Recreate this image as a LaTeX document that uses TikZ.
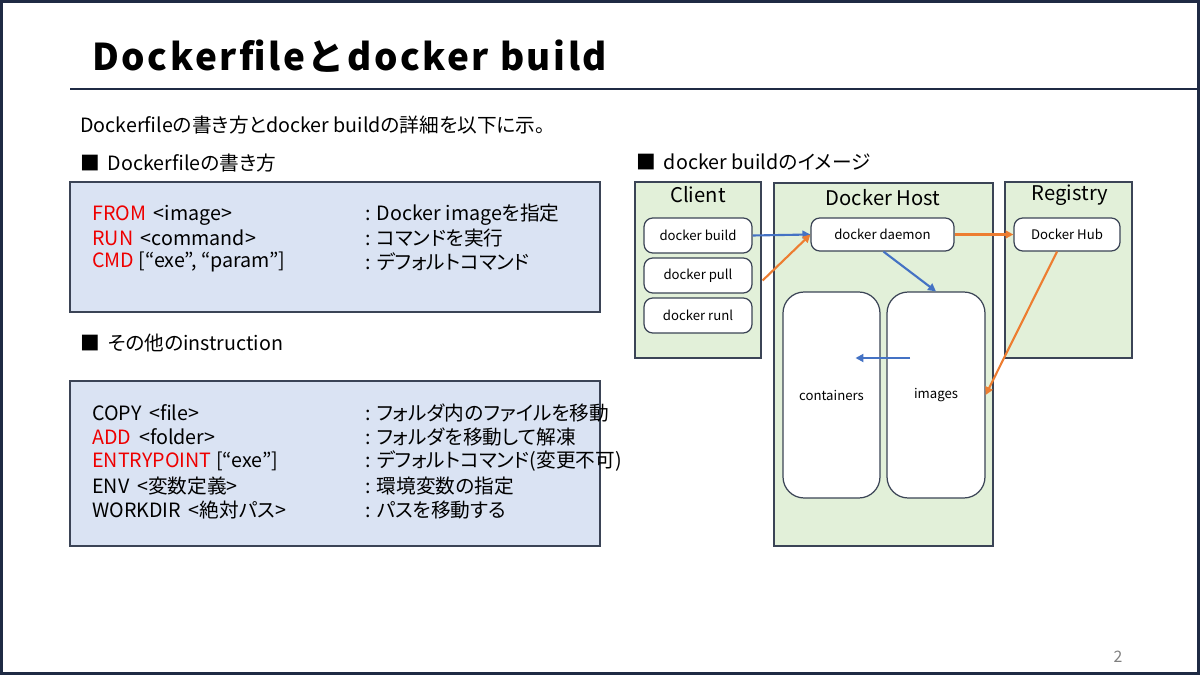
\documentclass[tikz,border=0pt]{standalone}
\usepackage{fontspec}
\setmainfont{Noto Sans CJK JP}[RawFeature=+palt]
\newfontfamily\titlefont[LetterSpace=7]{Noto Sans CJK JP}
\usetikzlibrary{positioning,arrows.meta}

\definecolor{navy}{HTML}{1F2A44}
\definecolor{boxblue}{HTML}{DAE3F3}
\definecolor{boxgreen}{HTML}{E2F0D9}
\definecolor{edgegray}{HTML}{3B4456}
\definecolor{arrblue}{HTML}{4472C4}
\definecolor{arrorange}{HTML}{ED7D31}
\definecolor{cmdred}{HTML}{EE0000}

\tikzset{
  cmdbox/.style={draw=edgegray, fill=boxblue, line width=0.8pt, minimum width=10.6cm, inner sep=0},
  panel/.style={draw=edgegray, fill=boxgreen, line width=0.8pt, inner sep=0},
  tool/.style={draw=edgegray, fill=white, line width=0.7pt, rounded corners=5pt, inner sep=0,
    font=\fontsize{7.5}{9}\selectfont},
  store/.style={draw=edgegray, fill=white, line width=0.7pt, rounded corners=12pt, inner sep=0,
    minimum height=4.12cm, font=\fontsize{7.5}{9}\selectfont},
  ln/.style={anchor=west, inner sep=0, font=\fontsize{11.2}{13}\selectfont},
  head/.style={anchor=west, inner sep=0, font=\fontsize{11.2}{13}\selectfont},
  ptitle/.style={inner sep=0, font=\fontsize{11.5}{13}\selectfont},
  flow/.style={-{Triangle[length=4.5pt,width=4.5pt]}, line width=1.2pt}
}
\newcommand{\red}[1]{\textcolor{cmdred}{#1}}

\begin{document}
\begin{tikzpicture}[x=0.02cm,y=-0.02cm]
\useasboundingbox (0,0) rectangle (1200,675);
\fill[white] (0,0) rectangle (1200,675);
\draw[navy, line width=1.7pt] (1.5,1.5) rectangle (1198.5,673.5);

% title
\node[anchor=west, inner sep=0, font=\titlefont\bfseries\fontsize{21}{24}\selectfont] (title) at (92,56) {Dockerfileとdocker build};
\draw[navy, line width=1.7pt] (70,89) -- (1198,89);
\node[head] (intro) at (80,125) {Dockerfileの書き方とdocker buildの詳細を以下に示。};

% left side
\node[head] (howto) at (80,163) {■\hspace{0.4em}Dockerfileの書き方};
\node[cmdbox, minimum height=2.6cm] (basic) at (335,247) {};
\node[ln] (from) at (92,215) {\red{FROM} \,<image>};
\node[ln] (run) at (92,238) {\red{RUN} \,<command>};
\node[ln] (cmd) at (92,262) {\red{CMD} [“exe”, “param”]};
\node[ln] (fromd) at (365,215) {: Docker imageを指定};
\node[ln] (rund) at (365,238) {: コマンドを実行};
\node[ln] (cmdd) at (365,262) {: デフォルトコマンド};

\node[head] (other) at (80,343) {■\hspace{0.4em}その他のinstruction};
\node[cmdbox, minimum height=3.3cm] (extra) at (335,463.5) {};
\node[ln] (copy) at (92,413) {COPY \,<file>};
\node[ln] (add) at (92,437) {\red{ADD} \,<folder>};
\node[ln] (entry) at (92,461) {\red{ENTRYPOINT} [“exe”]};
\node[ln] (env) at (92,486) {ENV \,<変数定義>};
\node[ln] (work) at (92,510) {WORKDIR \,<絶対パス>};
\node[ln] (copyd) at (365,413) {: フォルダ内のファイルを移動};
\node[ln] (addd) at (365,437) {: フォルダを移動して解凍};
\node[ln] (entryd) at (365,461) {: デフォルトコマンド(変更不可)};
\node[ln] (envd) at (365,486) {: 環境変数の指定};
\node[ln] (workd) at (365,510) {: パスを移動する};

% right side
\node[head] (image) at (636,162) {■\hspace{0.4em}docker buildのイメージ};
\node[panel, minimum width=2.52cm, minimum height=3.52cm] (client) at (698,270) {};
\node[panel, minimum width=4.38cm, minimum height=7.26cm] (host) at (883.5,364.5) {};
\node[panel, minimum width=2.54cm, minimum height=3.52cm] (registry) at (1068.5,270) {};
\node[ptitle] (clientT) at (698,195) {Client};
\node[ptitle] (hostT) at (883,198) {Docker Host};
\node[ptitle] (registryT) at (1070,195) {Registry};

\node[tool, minimum width=2.16cm, minimum height=0.7cm] (build) at (698,235.5) {docker build};
\node[tool, minimum width=2.16cm, minimum height=0.7cm] (pull) at (698,275.5) {docker pull};
\node[tool, minimum width=2.16cm, minimum height=0.7cm] (runl) at (698,315.5) {docker runl};
\node[tool, minimum width=2.86cm, minimum height=0.66cm] (daemon) at (882.5,234.5) {docker daemon};
\node[tool, minimum width=2.12cm, minimum height=0.66cm] (hub) at (1067,234.5) {Docker Hub};
\node[store, minimum width=1.94cm] (containers) at (831.5,395) {containers};
\node[store, minimum width=1.96cm] (images) at (936,395) {images};

\coordinate (pullout) at ([xshift=0.2cm,yshift=-0.1cm]pull.east);
\coordinate (hubin) at ([xshift=-0.2cm]hub.south);
\coordinate (daemonout) at ([xshift=0.02cm]daemon.south);
\coordinate (imgtail) at ([xshift=-0.52cm]images.north |- 0,358);
\coordinate (conhead) at ([xshift=0.48cm]containers.north |- 0,358);

\draw[flow, arrblue] (build.east) -- (daemon.west);
\draw[flow, arrorange] (pullout) -- (daemon.west);
\draw[flow, arrorange] (daemon.east) -- (hub.west);
\draw[flow, arrblue] (daemonout) -- (images.north);
\draw[flow, arrorange] (hubin) -- (images.east);
\draw[flow, arrblue] (imgtail) -- (conhead);

\node[inner sep=0, text=gray, font=\fontsize{9}{11}\selectfont] (page) at (1118,657) {2};
\end{tikzpicture}
\end{document}
